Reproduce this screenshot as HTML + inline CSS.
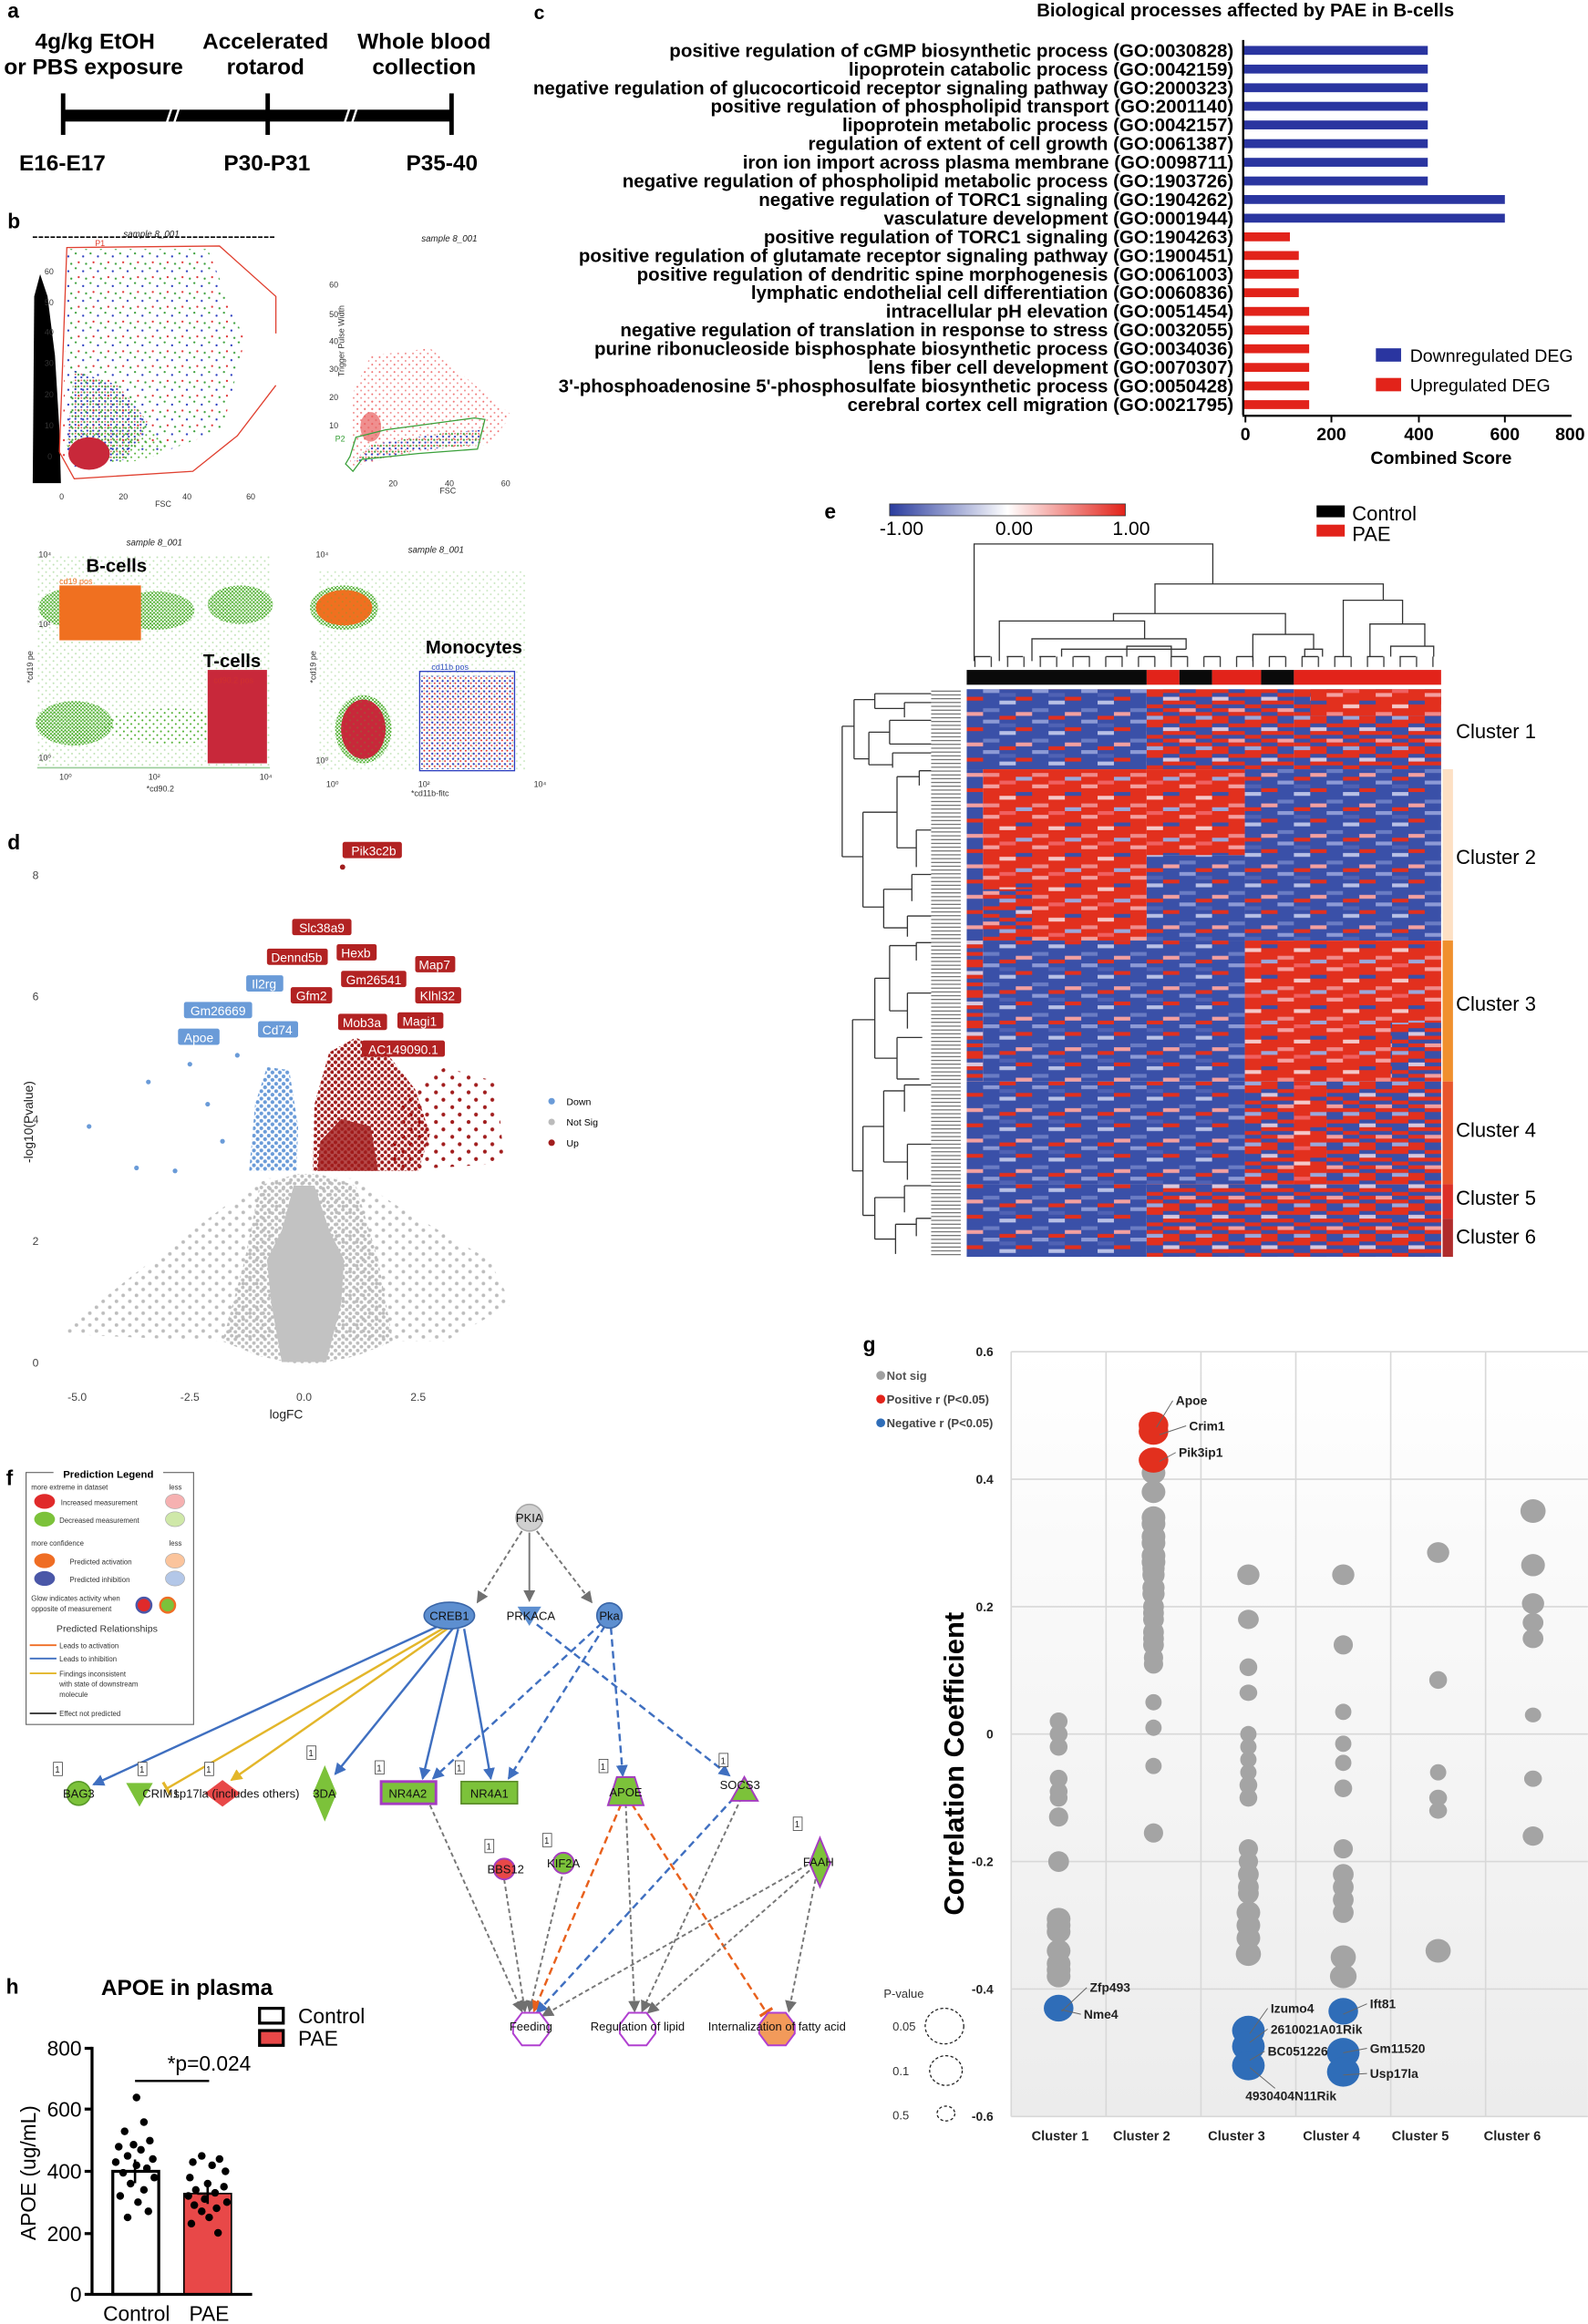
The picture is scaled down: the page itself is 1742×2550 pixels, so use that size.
<!DOCTYPE html>
<html><head><meta charset="utf-8">
<style>
html,body{margin:0;padding:0;background:#fff;}
svg{display:block;font-family:"Liberation Sans",Arial,sans-serif;}
.b{font-weight:bold;}
</style></head>
<body>
<svg xmlns="http://www.w3.org/2000/svg" width="1742" height="2550" viewBox="0 0 1071 1568">
<defs>
<marker id="ag" markerWidth="8" markerHeight="8" refX="7" refY="4" orient="auto" markerUnits="userSpaceOnUse"><path d="M0,0 L8,4 L0,8 z" fill="#707070"/></marker>
<marker id="ab" markerWidth="8" markerHeight="8" refX="7" refY="4" orient="auto" markerUnits="userSpaceOnUse"><path d="M0,0 L8,4 L0,8 z" fill="#3f6fc0"/></marker>
<marker id="ay" markerWidth="8" markerHeight="8" refX="7" refY="4" orient="auto" markerUnits="userSpaceOnUse"><path d="M0,0 L8,4 L0,8 z" fill="#e3b62a"/></marker>
<marker id="ao" markerWidth="8" markerHeight="8" refX="7" refY="4" orient="auto" markerUnits="userSpaceOnUse"><path d="M0,0 L8,4 L0,8 z" fill="#e8601c"/></marker>
<marker id="io" markerWidth="3" markerHeight="10" refX="1.5" refY="5" orient="auto" markerUnits="userSpaceOnUse"><rect x="0" y="0" width="2" height="10" fill="#e8601c"/></marker>
<marker id="iy" markerWidth="3" markerHeight="10" refX="1.5" refY="5" orient="auto" markerUnits="userSpaceOnUse"><rect x="0" y="0" width="2" height="10" fill="#e3b62a"/></marker>
<linearGradient id="cb" x1="0" x2="1" y1="0" y2="0"><stop offset="0" stop-color="#2a3c9e"/><stop offset="0.5" stop-color="#ffffff"/><stop offset="1" stop-color="#e2231a"/></linearGradient>
<linearGradient id="gbg" x1="0" x2="0" y1="0" y2="1"><stop offset="0" stop-color="#ffffff"/><stop offset="1" stop-color="#ececec"/></linearGradient>

<pattern id="pR" x="652" y="465" width="33.103" height="20.56" patternUnits="userSpaceOnUse">
<rect width="33.103" height="20.56" fill="#e2301e"/>
<rect x="11.03" y="2.57" width="11.04" height="2.57" fill="#f4a0a0"/>
<rect x="0" y="7.71" width="11.04" height="2.57" fill="#3a50a8"/>
<rect x="22.07" y="10.28" width="11.04" height="2.57" fill="#f5c8c8"/>
<rect x="11.03" y="15.42" width="11.04" height="2.57" fill="#f08a8a"/>
<rect x="0" y="17.99" width="11.04" height="2.57" fill="#9aa8dc"/>
<rect x="22.07" y="0" width="11.04" height="2.57" fill="#f06060"/>
</pattern>
<pattern id="pB" x="652" y="465" width="33.103" height="20.56" patternUnits="userSpaceOnUse">
<rect width="33.103" height="20.56" fill="#3a50a8"/>
<rect x="11.03" y="0" width="11.04" height="2.57" fill="#8d9ad6"/>
<rect x="0" y="5.14" width="11.04" height="2.57" fill="#e2301e"/>
<rect x="22.07" y="7.71" width="11.04" height="2.57" fill="#b8c0e6"/>
<rect x="11.03" y="12.85" width="11.04" height="2.57" fill="#6a7cc4"/>
<rect x="0" y="15.42" width="11.04" height="2.57" fill="#f4a0a0"/>
<rect x="22.07" y="17.99" width="11.04" height="2.57" fill="#e2301e"/>
<rect x="22.07" y="2.57" width="11.04" height="2.57" fill="#5062b4"/>
</pattern>
<pattern id="pM" x="652" y="465" width="33.103" height="20.56" patternUnits="userSpaceOnUse">
<rect width="33.103" height="20.56" fill="#3a50a8"/>
<rect x="0" y="0" width="11.04" height="2.57" fill="#e2301e"/>
<rect x="22.07" y="0" width="11.04" height="5.14" fill="#e2301e"/>
<rect x="11.03" y="2.57" width="11.04" height="2.57" fill="#e2301e"/>
<rect x="0" y="5.14" width="11.04" height="2.57" fill="#d8c8de"/>
<rect x="0" y="7.71" width="22.07" height="2.57" fill="#e2301e"/>
<rect x="22.07" y="10.28" width="11.04" height="2.57" fill="#e2301e"/>
<rect x="0" y="12.85" width="11.04" height="2.57" fill="#e2301e"/>
<rect x="11.03" y="12.85" width="11.04" height="2.57" fill="#f4a0a0"/>
<rect x="11.03" y="15.42" width="22.07" height="2.57" fill="#e2301e"/>
<rect x="0" y="17.99" width="11.04" height="2.57" fill="#e2301e"/>
<rect x="22.07" y="17.99" width="11.04" height="2.57" fill="#9aa8dc"/>
</pattern>
<pattern id="pleaf" x="0" y="465" width="20" height="2.569" patternUnits="userSpaceOnUse"><line x1="0" y1="1.28" x2="20" y2="1.28" stroke="#444" stroke-width="0.55"/></pattern>
<pattern id="ptick" x="652" y="0" width="11.034" height="10" patternUnits="userSpaceOnUse"><line x1="5.52" y1="0" x2="5.52" y2="10" stroke="#333" stroke-width="0.8"/></pattern>

<pattern id="dgrey" width="5" height="5" patternUnits="userSpaceOnUse"><circle cx="1.2" cy="1.2" r="1.2" fill="#bdbdbd"/><circle cx="3.7" cy="3.6" r="1.2" fill="#bdbdbd"/></pattern>
<pattern id="dgrey2" width="9" height="8" patternUnits="userSpaceOnUse"><circle cx="2" cy="2" r="1.2" fill="#bdbdbd"/><circle cx="6.5" cy="6" r="1.2" fill="#bdbdbd"/></pattern>
<pattern id="dred" width="4.5" height="4.5" patternUnits="userSpaceOnUse"><circle cx="1.2" cy="1.2" r="1.3" fill="#a11d1d"/><circle cx="3.5" cy="3.4" r="1.3" fill="#a11d1d"/></pattern>
<pattern id="dred2" width="11" height="10" patternUnits="userSpaceOnUse"><circle cx="2" cy="2" r="1.3" fill="#a11d1d"/><circle cx="8" cy="7" r="1.3" fill="#a11d1d"/></pattern>
<pattern id="dblue" width="5" height="5" patternUnits="userSpaceOnUse"><circle cx="1.2" cy="1.2" r="1.3" fill="#6a9bd8"/><circle cx="3.7" cy="3.6" r="1.3" fill="#6a9bd8"/></pattern>
<pattern id="dmix" width="10" height="10" patternUnits="userSpaceOnUse"><circle cx="1" cy="1" r="0.7" fill="#3aa03a"/><circle cx="6" cy="3" r="0.7" fill="#2a3cc0"/><circle cx="3" cy="7" r="0.7" fill="#e03030"/><circle cx="8" cy="8" r="0.7" fill="#3aa03a"/></pattern>
<pattern id="dmix2" width="4" height="4" patternUnits="userSpaceOnUse"><circle cx="0.8" cy="0.8" r="0.7" fill="#3aa03a"/><circle cx="2.8" cy="2.6" r="0.7" fill="#2a3cc0"/><circle cx="2.8" cy="0.6" r="0.5" fill="#e03030"/></pattern>
<pattern id="dgreen" width="2.4" height="2.4" patternUnits="userSpaceOnUse"><circle cx="0.7" cy="0.7" r="0.7" fill="#4fb030"/><circle cx="1.9" cy="1.8" r="0.7" fill="#4fb030"/></pattern>
<pattern id="dgreen2" width="5" height="5" patternUnits="userSpaceOnUse"><circle cx="1" cy="1" r="0.6" fill="#4fb030"/><circle cx="3.5" cy="3.5" r="0.6" fill="#4fb030"/></pattern>
<pattern id="dpink" width="5" height="5" patternUnits="userSpaceOnUse"><circle cx="1" cy="1" r="0.6" fill="#f07070"/><circle cx="3.5" cy="3.5" r="0.6" fill="#f09090"/></pattern>
<pattern id="dbluef" width="3.5" height="3.5" patternUnits="userSpaceOnUse"><circle cx="1" cy="1" r="0.7" fill="#2a3cc0"/><circle cx="2.6" cy="2.5" r="0.6" fill="#e03030"/></pattern>
</defs>

<!-- Panel a -->
<g class="b" font-size="15" text-anchor="middle">
<text x="5" y="12" text-anchor="start" font-size="14">a</text>
<text x="64" y="33">4g/kg EtOH</text>
<text x="63" y="50">or PBS exposure</text>
<text x="179" y="33">Accelerated</text>
<text x="179" y="50">rotarod</text>
<text x="286" y="33">Whole blood</text>
<text x="286" y="50">collection</text>
<text x="42" y="115">E16-E17</text>
<text x="180" y="115">P30-P31</text>
<text x="298" y="115">P35-40</text>
</g>
<rect x="42" y="74" width="263" height="8" fill="#000"/>
<rect x="41" y="63" width="3" height="28" fill="#000"/><rect x="179" y="63" width="3" height="28" fill="#000"/><rect x="303" y="63" width="3" height="28" fill="#000"/>
<g stroke="#fff" stroke-width="1.5"><line x1="112" y1="84" x2="116" y2="72"/><line x1="117" y1="84" x2="121" y2="72"/><line x1="232" y1="84" x2="236" y2="72"/><line x1="237" y1="84" x2="241" y2="72"/></g>

<!-- Panel b -->
<text x="5" y="154" class="b" font-size="14">b</text>
<line x1="22" y1="160" x2="185" y2="160" stroke="#000" stroke-width="1" stroke-dasharray="3,1"/>
<polygon points="42,310 45,168 140,168 165,230 150,290 110,305" fill="url(#dmix)"/>
<polygon points="45,300 50,250 80,260 100,285 85,310 50,315" fill="url(#dmix2)"/>
<ellipse cx="78" cy="300" rx="34" ry="12" fill="url(#dgreen2)"/>
<polygon points="22,326 41,326 40,290 37,240 32,200 27,185 23,200" fill="#000"/>
<ellipse cx="60" cy="306" rx="14" ry="11" fill="#c8283a"/>
<polyline points="40,305 45,167 148,166 186,200 186,225" fill="none" stroke="#e04030" stroke-width="0.8"/>
<polyline points="40,305 50,323 130,318 160,294 186,260" fill="none" stroke="#e04030" stroke-width="0.8"/>
<polygon points="236,315 238,265 250,240 290,235 345,280 330,300 280,305" fill="url(#dpink)"/>
<ellipse cx="250" cy="285" rx="9" ry="15" fill="url(#dpink)"/>
<ellipse cx="250" cy="288" rx="7" ry="10" fill="#e86060" opacity="0.7"/>
<polygon points="238,312 250,300 300,292 325,290 322,300 280,304 245,312" fill="url(#dmix2)"/>
<polygon points="233,313 236,308 240,295 260,290 320,282 327,283 322,303 282,306 244,310 238,318" fill="none" stroke="#3aa03a" stroke-width="0.8"/>
<ellipse cx="48" cy="410" rx="22" ry="13" fill="url(#dgreen)"/>
<ellipse cx="105" cy="412" rx="26" ry="13" fill="url(#dgreen)"/>
<ellipse cx="162" cy="408" rx="22" ry="13" fill="url(#dgreen)"/>
<ellipse cx="50" cy="488" rx="26" ry="15" fill="url(#dgreen)"/>
<ellipse cx="115" cy="490" rx="45" ry="12" fill="url(#dgreen2)"/>
<rect x="25" y="375" width="157" height="143" fill="url(#dgreen2)" opacity="0.35"/>
<rect x="40" y="395" width="55" height="37" fill="#f07020"/>
<rect x="140" y="452" width="40" height="63" fill="#c8283a"/>
<line x1="25" y1="518" x2="182" y2="518" stroke="#9c9" stroke-width="1"/>
<ellipse cx="232" cy="410" rx="23" ry="15" fill="url(#dgreen)"/>
<ellipse cx="232" cy="410" rx="19" ry="12" fill="#f07020"/>
<ellipse cx="245" cy="492" rx="19" ry="23" fill="url(#dgreen)"/>
<ellipse cx="245" cy="492" rx="15" ry="20" fill="#c8283a"/>
<rect x="215" y="385" width="140" height="135" fill="url(#dgreen2)" opacity="0.3"/>
<rect x="284" y="456" width="62" height="63" fill="url(#dbluef)"/>
<rect x="283" y="453" width="64" height="67" fill="none" stroke="#2a3cc0" stroke-width="0.8"/>
<g font-size="5.5" fill="#222" font-style="italic">
<text x="102" y="160" text-anchor="middle" font-size="6">sample 8_001</text>
<text x="303" y="163" text-anchor="middle" font-size="6">sample 8_001</text>
<text x="104" y="368" text-anchor="middle" font-size="6">sample 8_001</text>
<text x="294" y="373" text-anchor="middle" font-size="6">sample 8_001</text>
</g>
<g font-size="5.5" fill="#333">
<text x="110" y="342" text-anchor="middle">FSC</text>
<text x="302" y="333" text-anchor="middle">FSC</text>
<text x="108" y="534" text-anchor="middle">*cd90.2</text>
<text x="290" y="537" text-anchor="middle">*cd11b-fitc</text>
<text x="232" y="230" transform="rotate(-90 232 230)" text-anchor="middle">Trigger Pulse Width</text>
<text x="22" y="450" transform="rotate(-90 22 450)" text-anchor="middle">*cd19 pe</text>
<text x="213" y="450" transform="rotate(-90 213 450)" text-anchor="middle">*cd19 pe</text>
<text x="30" y="185">60</text><text x="30" y="206">50</text><text x="30" y="226">40</text><text x="30" y="247">30</text><text x="30" y="268">20</text><text x="30" y="289">10</text><text x="32" y="310">0</text>
<text x="40" y="337">0</text><text x="80" y="337">20</text><text x="123" y="337">40</text><text x="166" y="337">60</text>
<text x="222" y="194">60</text><text x="222" y="214">50</text><text x="222" y="232">40</text><text x="222" y="251">30</text><text x="222" y="270">20</text><text x="222" y="289">10</text>
<text x="262" y="328">20</text><text x="300" y="328">40</text><text x="338" y="328">60</text>
<text x="26" y="376">10⁴</text><text x="26" y="423">10²</text><text x="26" y="513">10⁰</text>
<text x="40" y="526">10⁰</text><text x="100" y="526">10²</text><text x="175" y="526">10⁴</text>
<text x="213" y="376">10⁴</text><text x="213" y="515">10⁰</text>
<text x="220" y="531">10⁰</text><text x="282" y="531">10²</text><text x="360" y="531">10⁴</text>
</g>
<g class="b" font-size="12.5">
<text x="58" y="386">B-cells</text>
<text x="137" y="450">T-cells</text>
<text x="287" y="441">Monocytes</text>
</g>
<g font-size="5.5"><text x="40" y="394" fill="#f07020">cd19 pos</text><text x="144" y="461" fill="#d03030">cd90.2 pos</text><text x="291" y="452" fill="#3050c0">cd11b pos</text><text x="64" y="166" fill="#e04030">P1</text><text x="226" y="298" fill="#3aa03a">P2</text></g>

<!-- Panel c -->
<text x="360" y="13" class="b" font-size="13">c</text>
<text x="840" y="11" class="b" font-size="12.5" text-anchor="middle">Biological processes affected by PAE in B-cells</text>
<g class="b" font-size="12.6" text-anchor="end">
<text x="832" y="38.3">positive regulation of cGMP biosynthetic process (GO:0030828)</text>
<text x="832" y="50.9">lipoprotein catabolic process (GO:0042159)</text>
<text x="832" y="63.5">negative regulation of glucocorticoid receptor signaling pathway (GO:2000323)</text>
<text x="832" y="76">positive regulation of phospholipid transport (GO:2001140)</text>
<text x="832" y="88.6">lipoprotein metabolic process (GO:0042157)</text>
<text x="832" y="101.2">regulation of extent of cell growth (GO:0061387)</text>
<text x="832" y="113.8">iron ion import across plasma membrane (GO:0098711)</text>
<text x="832" y="126.4">negative regulation of phospholipid metabolic process (GO:1903726)</text>
<text x="832" y="138.9">negative regulation of TORC1 signaling (GO:1904262)</text>
<text x="832" y="151.5">vasculature development (GO:0001944)</text>
<text x="832" y="164.1">positive regulation of TORC1 signaling (GO:1904263)</text>
<text x="832" y="176.7">positive regulation of glutamate receptor signaling pathway (GO:1900451)</text>
<text x="832" y="189.3">positive regulation of dendritic spine morphogenesis (GO:0061003)</text>
<text x="832" y="201.8">lymphatic endothelial cell differentiation (GO:0060836)</text>
<text x="832" y="214.4">intracellular pH elevation (GO:0051454)</text>
<text x="832" y="227">negative regulation of translation in response to stress (GO:0032055)</text>
<text x="832" y="239.6">purine ribonucleoside bisphosphate biosynthetic process (GO:0034036)</text>
<text x="832" y="252.2">lens fiber cell development (GO:0070307)</text>
<text x="832" y="264.7">3'-phosphoadenosine 5'-phosphosulfate biosynthetic process (GO:0050428)</text>
<text x="832" y="277.3">cerebral cortex cell migration (GO:0021795)</text>
</g>
<g fill="#2a35a0">
<rect x="839" y="31" width="124" height="6"/><rect x="839" y="43.6" width="124" height="6"/><rect x="839" y="56.2" width="124" height="6"/><rect x="839" y="68.7" width="124" height="6"/><rect x="839" y="81.3" width="124" height="6"/><rect x="839" y="93.9" width="124" height="6"/><rect x="839" y="106.5" width="124" height="6"/><rect x="839" y="119.1" width="124" height="6"/><rect x="839" y="131.6" width="176" height="6"/><rect x="839" y="144.2" width="176" height="6"/>
</g>
<g fill="#e2231a">
<rect x="839" y="156.8" width="31" height="6"/><rect x="839" y="169.4" width="37" height="6"/><rect x="839" y="182" width="37" height="6"/><rect x="839" y="194.5" width="37" height="6"/><rect x="839" y="207.1" width="44" height="6"/><rect x="839" y="219.7" width="44" height="6"/><rect x="839" y="232.3" width="44" height="6"/><rect x="839" y="244.9" width="44" height="6"/><rect x="839" y="257.4" width="44" height="6"/><rect x="839" y="270" width="44" height="6"/>
</g>
<line x1="838.5" y1="27" x2="838.5" y2="280" stroke="#000" stroke-width="1.5"/>
<line x1="838" y1="280.5" x2="1060" y2="280.5" stroke="#000" stroke-width="1.5"/>
<g stroke="#000" stroke-width="1.2"><line x1="840" y1="280" x2="840" y2="285"/><line x1="898" y1="280" x2="898" y2="285"/><line x1="957" y1="280" x2="957" y2="285"/><line x1="1015" y1="280" x2="1015" y2="285"/></g>
<g class="b" font-size="12" text-anchor="middle"><text x="840" y="297">0</text><text x="898" y="297">200</text><text x="957" y="297">400</text><text x="1015" y="297">600</text><text x="1059" y="297">800</text>
<text x="972" y="313">Combined Score</text></g>
<rect x="928" y="235" width="17" height="9" fill="#2a35a0"/><text x="951" y="244" font-size="12">Downregulated DEG</text>
<rect x="928" y="255" width="17" height="9" fill="#e2231a"/><text x="951" y="264" font-size="12">Upregulated DEG</text>

<!-- Panel d -->
<text x="5" y="573" class="b" font-size="14">d</text>
<polygon points="40,900 90,860 150,815 180,795 240,795 270,815 330,850 345,880 300,905 150,905" fill="url(#dgrey2)"/>
<polygon points="150,905 165,850 175,800 200,792 215,792 240,800 255,850 265,905 240,915 215,920 198,920 175,915" fill="url(#dgrey)"/>
<polygon points="190,919 183,880 180,850 190,830 198,800 212,800 222,830 232,850 230,880 220,919" fill="#c2c2c2"/>
<polygon points="211,790 212,745 222,710 240,700 262,712 280,735 290,765 282,790" fill="url(#dred)"/>
<polygon points="262,790 270,740 300,720 335,730 340,785" fill="url(#dred2)"/>
<polygon points="214,790 216,770 230,755 250,760 255,790" fill="#a11d1d" opacity="0.8"/>
<polygon points="168,790 172,745 180,720 195,722 201,760 200,790" fill="url(#dblue)"/>
<g fill="#6a9bd8"><circle cx="60" cy="760" r="1.6"/><circle cx="100" cy="730" r="1.6"/><circle cx="128" cy="718" r="1.6"/><circle cx="118" cy="790" r="1.6"/><circle cx="150" cy="770" r="1.6"/><circle cx="92" cy="788" r="1.6"/><circle cx="140" cy="745" r="1.6"/><circle cx="160" cy="712" r="1.6"/></g>
<circle cx="231" cy="585" r="1.8" fill="#a11d1d"/>
<g font-size="7.5" fill="#444">
<text x="26" y="593" text-anchor="end">8</text><text x="26" y="675" text-anchor="end">6</text><text x="26" y="758" text-anchor="end">4</text><text x="26" y="840" text-anchor="end">2</text><text x="26" y="922" text-anchor="end">0</text>
<text x="52" y="945" text-anchor="middle">-5.0</text><text x="128" y="945" text-anchor="middle">-2.5</text><text x="205" y="945" text-anchor="middle">0.0</text><text x="282" y="945" text-anchor="middle">2.5</text>
</g>
<text x="193" y="957" font-size="8.5" text-anchor="middle" fill="#222">logFC</text>
<text x="22" y="757" font-size="8.5" text-anchor="middle" fill="#222" transform="rotate(-90 22 757)">-log10(Pvalue)</text>
<circle cx="372" cy="743" r="2.2" fill="#6a9bd8"/><text x="382" y="745.5" font-size="6.5">Down</text>
<circle cx="372" cy="757" r="2.2" fill="#bbb"/><text x="382" y="759.5" font-size="6.5">Not Sig</text>
<circle cx="372" cy="771" r="2.2" fill="#a11d1d"/><text x="382" y="773.5" font-size="6.5">Up</text>
<g font-size="8.5" fill="#fff" text-anchor="middle">
<rect x="231" y="568" width="40" height="11" rx="1.5" fill="#b22222"/><text x="252" y="577">Pik3c2b</text>
<rect x="197" y="620" width="40" height="11" rx="1.5" fill="#b22222"/><text x="217" y="629">Slc38a9</text>
<rect x="227" y="637" width="27" height="11" rx="1.5" fill="#b22222"/><text x="240" y="646">Hexb</text>
<rect x="180" y="640" width="41" height="11" rx="1.5" fill="#b22222"/><text x="200" y="649">Dennd5b</text>
<rect x="280" y="645" width="27" height="11" rx="1.5" fill="#b22222"/><text x="293" y="654">Map7</text>
<rect x="230" y="655" width="44" height="11" rx="1.5" fill="#b22222"/><text x="252" y="664">Gm26541</text>
<rect x="166" y="658" width="25" height="11" rx="1.5" fill="#6a9bd8"/><text x="178" y="667">Il2rg</text>
<rect x="196" y="666" width="28" height="11" rx="1.5" fill="#b22222"/><text x="210" y="675">Gfm2</text>
<rect x="280" y="666" width="31" height="11" rx="1.5" fill="#b22222"/><text x="295" y="675">Klhl32</text>
<rect x="124" y="676" width="46" height="11" rx="1.5" fill="#6a9bd8"/><text x="147" y="685">Gm26669</text>
<rect x="228" y="684" width="33" height="11" rx="1.5" fill="#b22222"/><text x="244" y="693">Mob3a</text>
<rect x="268" y="683" width="31" height="11" rx="1.5" fill="#b22222"/><text x="283" y="692">Magi1</text>
<rect x="174" y="689" width="27" height="11" rx="1.5" fill="#6a9bd8"/><text x="187" y="698">Cd74</text>
<rect x="120" y="694" width="28" height="11" rx="1.5" fill="#6a9bd8"/><text x="134" y="703">Apoe</text>
<rect x="244" y="702" width="56" height="11" rx="1.5" fill="#b22222"/><text x="272" y="711">AC149090.1</text>
</g>

<!-- Panel e -->
<text x="556" y="350" class="b" font-size="14">e</text>
<rect x="600" y="340" width="159" height="8" fill="url(#cb)" stroke="#333" stroke-width="0.5"/>
<g font-size="13" text-anchor="middle"><text x="608" y="361">-1.00</text><text x="684" y="361">0.00</text><text x="763" y="361">1.00</text></g>
<rect x="888" y="341" width="19" height="8" fill="#000"/><text x="912" y="351" font-size="13.5">Control</text>
<rect x="888" y="354" width="19" height="8" fill="#e2231a"/><text x="912" y="365" font-size="13.5">PAE</text>
<rect x="652" y="465" width="121.4" height="54" fill="url(#pB)"/>
<rect x="773.4" y="465" width="99.3" height="54" fill="url(#pM)"/>
<rect x="872.7" y="465" width="99.3" height="54" fill="url(#pM)"/>
<rect x="884" y="465" width="88" height="18" fill="url(#pR)"/>
<rect x="652" y="519" width="11" height="115.6" fill="url(#pB)"/>
<rect x="663" y="519" width="110.4" height="115.6" fill="url(#pR)"/>
<rect x="663" y="600" width="33" height="34.6" fill="url(#pM)"/>
<rect x="773.4" y="519" width="66.2" height="58" fill="url(#pR)"/>
<rect x="773.4" y="577" width="66.2" height="57.6" fill="url(#pB)"/>
<rect x="839.6" y="519" width="132.4" height="115.6" fill="url(#pB)"/>
<rect x="652" y="634.6" width="11" height="95.1" fill="url(#pM)"/>
<rect x="663" y="634.6" width="176.6" height="95.1" fill="url(#pB)"/>
<rect x="839.6" y="634.6" width="132.4" height="95.1" fill="url(#pR)"/>
<rect x="938" y="690" width="34" height="39.7" fill="url(#pM)"/>
<rect x="652" y="729.7" width="187.6" height="69.3" fill="url(#pB)"/>
<rect x="839.6" y="729.7" width="132.4" height="69.3" fill="url(#pM)"/>
<rect x="872.7" y="729.7" width="22" height="69.3" fill="url(#pR)"/>
<rect x="652" y="799" width="121.4" height="49" fill="url(#pB)"/>
<rect x="773.4" y="799" width="198.6" height="49" fill="url(#pM)"/>
<rect x="652" y="452" width="121.4" height="10" fill="#0a0a0a"/>
<rect x="773.4" y="452" width="22.1" height="10" fill="#e2231a"/>
<rect x="795.5" y="452" width="22" height="10" fill="#0a0a0a"/>
<rect x="817.5" y="452" width="33.1" height="10" fill="#e2231a"/>
<rect x="850.6" y="452" width="22.1" height="10" fill="#0a0a0a"/>
<rect x="872.7" y="452" width="99.3" height="10" fill="#e2231a"/>
<rect x="973" y="519" width="7" height="115.6" fill="#fde0c4"/>
<rect x="973" y="634.6" width="7" height="95.1" fill="#f0902e"/>
<rect x="973" y="729.7" width="7" height="69.3" fill="#e8562c"/>
<rect x="973" y="799" width="7" height="23.2" fill="#dc3028"/>
<rect x="973" y="822.2" width="7" height="25.8" fill="#b02c2c"/>
<rect x="652" y="443" width="320" height="7" fill="url(#ptick)"/>
<g stroke="#333" stroke-width="0.8" fill="none">
<path d="M657,446 V367 H818 V394 M779,414 V394 H933 V405 M751,419 V414 H867 V428 M674,446 V419 H772 V431 M696,446 V431 H800 V438 M716,443 V438 H800 M845,446 V428 H886 V438 M880,443 V438 H892 V443 M906,443 V405 H946 V421 M924,443 V421 H961 V436 M938,443 V436 H967 V443 M760,443 V436 H790 V443"/>
<path d="M657,443 H668 M679,443 H690 M701,443 H712 M724,443 H735 M746,443 H757 M768,443 H779 M790,443 H801 M812,443 H823 M834,443 H845 M856,443 H867 M878,443 H889 M900,443 H911 M922,443 H933 M944,443 H955"/>
</g>
<rect x="628" y="465" width="20" height="383" fill="url(#pleaf)"/>
<g stroke="#333" stroke-width="0.8" fill="none">
<path d="M568,490 V578 M568,490 H576 M568,578 H582"/>
<path d="M576,472 V512 M576,472 H590 M576,512 H586 M590,468 V478 M590,468 H628 M590,478 H610 M610,474 V484 M610,474 H628 M586,494 V516 M586,494 H600 M586,516 H602 M600,486 V502 M600,486 H628 M600,502 H628 M602,508 V518 M602,508 H628"/>
<path d="M582,548 V612 M582,548 H605 M582,612 H596 M605,524 V572 M605,524 H620 M605,572 H618 M620,520 V530 M620,520 H628 M618,560 V585 M618,560 H628 M596,600 V626 M596,600 H615 M596,626 H612 M615,590 V608 M615,590 H628 M612,618 V632 M612,618 H628"/>
<path d="M575,688 V790 M575,688 H590 M575,790 H582 M590,660 V714 M590,660 H600 M590,714 H605 M600,638 V682 M600,638 H618 M600,682 H612 M618,636 V648 M618,636 H628 M612,670 V694 M612,670 H628 M605,700 V728 M605,700 H622 M605,728 H620"/>
<path d="M582,760 V820 M582,760 H596 M582,820 H590 M596,736 V784 M596,736 H610 M596,784 H612 M610,732 V750 M610,732 H628 M612,772 V796 M612,772 H628 M590,808 V836 M590,808 H610 M590,836 H604 M610,800 V818 M610,800 H628 M604,826 V846 M604,826 H618 M618,822 V834 M618,822 H628"/>
</g>
<g font-size="13.5"><text x="982" y="498">Cluster 1</text><text x="982" y="583">Cluster 2</text><text x="982" y="682">Cluster 3</text><text x="982" y="767">Cluster 4</text><text x="982" y="813">Cluster 5</text><text x="982" y="839">Cluster 6</text></g>

<!-- Panel f -->
<text x="4" y="1002" class="b" font-size="14">f</text>
<g>
<rect x="17.5" y="993.5" width="113" height="170" fill="#fff" stroke="#666" stroke-width="0.7"/>
<rect x="36" y="989" width="74" height="9" fill="#fff"/>
<text x="73" y="997" font-size="7" class="b" text-anchor="middle">Prediction Legend</text>
<g font-size="4.8" fill="#333">
<text x="21" y="1005">more extreme in dataset</text><text x="114" y="1005">less</text>
<ellipse cx="30" cy="1013" rx="7" ry="5" fill="#e02a2a"/><text x="41" y="1015.5">Increased measurement</text><ellipse cx="118" cy="1013" rx="6.5" ry="5" fill="#f6b1b1" stroke="#aaa" stroke-width="0.4"/>
<ellipse cx="30" cy="1025" rx="7" ry="5" fill="#7cc23a"/><text x="40" y="1027.5">Decreased measurement</text><ellipse cx="118" cy="1025" rx="6.5" ry="5" fill="#cfe8a8" stroke="#aaa" stroke-width="0.4"/>
<text x="21" y="1043">more confidence</text><text x="114" y="1043">less</text>
<ellipse cx="30" cy="1053" rx="7" ry="5" fill="#ef6d24"/><text x="47" y="1055.5">Predicted activation</text><ellipse cx="118" cy="1053" rx="6.5" ry="5" fill="#fbc49c" stroke="#aaa" stroke-width="0.4"/>
<ellipse cx="30" cy="1065" rx="7" ry="5" fill="#4a57a8"/><text x="47" y="1067.5">Predicted inhibition</text><ellipse cx="118" cy="1065" rx="6.5" ry="5" fill="#b3c7e8" stroke="#aaa" stroke-width="0.4"/>
<text x="21" y="1080">Glow indicates activity when</text><text x="21" y="1087">opposite of measurement</text>
<circle cx="97" cy="1083" r="5" fill="#e02a2a" stroke="#4a57a8" stroke-width="1.5"/><circle cx="113" cy="1083" r="5" fill="#7cc23a" stroke="#ef6d24" stroke-width="1.5"/>
<text x="38" y="1101" font-size="6.5">Predicted Relationships</text>
<line x1="20" y1="1110" x2="38" y2="1110" stroke="#ef6d24" stroke-width="1.2"/><text x="40" y="1112">Leads to activation</text>
<line x1="20" y1="1119" x2="38" y2="1119" stroke="#3f6fc0" stroke-width="1.2"/><text x="40" y="1121">Leads to inhibition</text>
<line x1="20" y1="1129" x2="38" y2="1129" stroke="#e3b62a" stroke-width="1.2"/><text x="40" y="1131">Findings inconsistent</text><text x="40" y="1138">with state of downstream</text><text x="40" y="1145">molecule</text>
<line x1="20" y1="1156" x2="38" y2="1156" stroke="#444" stroke-width="1.2"/><text x="40" y="1158">Effect not predicted</text>
</g></g>
<g fill="none" stroke-width="1.2">
<line x1="352" y1="1033" x2="322" y2="1081" stroke="#777" stroke-dasharray="3,2" marker-end="url(#ag)"/>
<line x1="357" y1="1034" x2="357" y2="1080" stroke="#777" marker-end="url(#ag)"/>
<line x1="362" y1="1033" x2="399" y2="1081" stroke="#777" stroke-dasharray="3,2" marker-end="url(#ag)"/>
<line x1="296" y1="1097" x2="63" y2="1204" stroke="#3f6fc0" stroke-width="1.5" marker-end="url(#ab)"/>
<line x1="300" y1="1098" x2="112" y2="1207" stroke="#e3b62a" stroke-width="1.5" marker-end="url(#iy)"/>
<line x1="303" y1="1098" x2="156" y2="1201" stroke="#e3b62a" stroke-width="1.5" marker-end="url(#ay)"/>
<line x1="306" y1="1098" x2="226" y2="1197" stroke="#3f6fc0" stroke-width="1.5" marker-end="url(#ab)"/>
<line x1="309" y1="1099" x2="285" y2="1200" stroke="#3f6fc0" stroke-width="1.5" marker-end="url(#ab)"/>
<line x1="313" y1="1099" x2="331" y2="1200" stroke="#3f6fc0" stroke-width="1.5" marker-end="url(#ab)"/>
<line x1="406" y1="1095" x2="292" y2="1200" stroke="#3f6fc0" stroke-width="1.5" stroke-dasharray="5,3" marker-end="url(#ab)"/>
<line x1="408" y1="1097" x2="343" y2="1200" stroke="#3f6fc0" stroke-width="1.5" stroke-dasharray="5,3" marker-end="url(#ab)"/>
<line x1="412" y1="1098" x2="420" y2="1198" stroke="#3f6fc0" stroke-width="1.5" stroke-dasharray="5,3" marker-end="url(#ab)"/>
<line x1="362" y1="1096" x2="492" y2="1198" stroke="#3f6fc0" stroke-width="1.5" stroke-dasharray="5,3" marker-end="url(#ab)"/>
<line x1="290" y1="1218" x2="352" y2="1357" stroke="#777" stroke-dasharray="3,2" marker-end="url(#ag)"/>
<line x1="340" y1="1268" x2="354" y2="1357" stroke="#777" stroke-dasharray="3,2" marker-end="url(#ag)"/>
<line x1="379" y1="1266" x2="357" y2="1357" stroke="#777" stroke-dasharray="3,2" marker-end="url(#ag)"/>
<line x1="419" y1="1217" x2="360" y2="1357" stroke="#e8601c" stroke-width="1.5" stroke-dasharray="5,3" marker-end="url(#ao)"/>
<line x1="495" y1="1213" x2="362" y2="1358" stroke="#3f6fc0" stroke-width="1.5" stroke-dasharray="5,3" marker-end="url(#ab)"/>
<line x1="422" y1="1217" x2="428" y2="1357" stroke="#777" stroke-dasharray="3,2" marker-end="url(#ag)"/>
<line x1="500" y1="1213" x2="433" y2="1357" stroke="#777" stroke-dasharray="3,2" marker-end="url(#ag)"/>
<line x1="426" y1="1217" x2="517" y2="1358" stroke="#e8601c" stroke-width="1.5" stroke-dasharray="5,3" marker-end="url(#io)"/>
<line x1="545" y1="1258" x2="366" y2="1360" stroke="#777" stroke-dasharray="3,2" marker-end="url(#ag)"/>
<line x1="546" y1="1262" x2="437" y2="1358" stroke="#777" stroke-dasharray="3,2" marker-end="url(#ag)"/>
<line x1="550" y1="1268" x2="532" y2="1357" stroke="#777" stroke-dasharray="3,2" marker-end="url(#ag)"/>
</g>
<g font-size="8" fill="#111">
<circle cx="357" cy="1024" r="9" fill="#d0d0d0" stroke="#aaa"/><text x="357" y="1027" text-anchor="middle">PKIA</text>
<ellipse cx="303" cy="1090" rx="17" ry="9" fill="#5d8fd0" stroke="#3a66a8"/><text x="303" y="1093" text-anchor="middle">CREB1</text>
<path d="M349,1084 L365,1084 L357,1097 z" fill="#5d8fd0"/><text x="358" y="1093" text-anchor="middle">PRKACA</text>
<circle cx="411" cy="1090" r="8.5" fill="#5d8fd0" stroke="#3a66a8"/><text x="411" y="1093" text-anchor="middle">Pka</text>
<circle cx="53" cy="1210" r="8" fill="#7cc23a" stroke="#5a9a2a"/><text x="53" y="1213" text-anchor="middle">BAG3</text>
<path d="M85,1203 L103,1203 L94,1219 z" fill="#7cc23a"/>
<path d="M150,1201 L162,1210 L150,1219 L138,1210 z" fill="#e84848"/>
<path d="M219,1191 L227,1210 L219,1229 L211,1210 z" fill="#7cc23a"/>
<text x="96" y="1213">CRIM1</text><text x="117" y="1213">sp17la (includes others)</text><text x="211" y="1213">3DA</text>
<rect x="257" y="1202" width="37" height="15" fill="#7cc23a" stroke="#a43cc0" stroke-width="1.8"/><text x="275" y="1213" text-anchor="middle">NR4A2</text>
<rect x="311" y="1202" width="38" height="15" fill="#7cc23a" stroke="#5a8a2a"/><text x="330" y="1213" text-anchor="middle">NR4A1</text>
<path d="M416,1199 L428,1199 L434,1218 L410,1218 z" fill="#7cc23a" stroke="#a43cc0" stroke-width="1.2"/><text x="422" y="1212" text-anchor="middle">APOE</text>
<path d="M502,1199 L511,1215 L493,1215 z" fill="#7cc23a" stroke="#a43cc0" stroke-width="1.2"/><text x="499" y="1207" text-anchor="middle">SOCS3</text>
<path d="M553,1240 L560,1257 L553,1273 L546,1257 z" fill="#7cc23a" stroke="#a43cc0" stroke-width="1.2"/><text x="552" y="1259" text-anchor="middle">FAAH</text>
<circle cx="340" cy="1261" r="7" fill="#e84848" stroke="#a43cc0" stroke-width="1.2"/><text x="341" y="1264" text-anchor="middle">BBS12</text>
<circle cx="380" cy="1257" r="7" fill="#7cc23a" stroke="#a43cc0" stroke-width="1.2"/><text x="380" y="1260" text-anchor="middle">KIF2A</text>
<polygon points="352,1358 364,1358 370,1366 370,1372 364,1380 352,1380 346,1372 346,1366" fill="#fff" stroke="#b040d0" stroke-width="1.2"/><text x="358" y="1370" text-anchor="middle">Feeding</text>
<polygon points="424,1358 436,1358 442,1366 442,1372 436,1380 424,1380 418,1372 418,1366" fill="#fff" stroke="#b040d0" stroke-width="1.2"/><text x="430" y="1370" text-anchor="middle">Regulation of lipid</text>
<polygon points="518,1358 530,1358 536,1366 536,1372 530,1380 518,1380 512,1372 512,1366" fill="#f29a5a" stroke="#b040d0" stroke-width="1.2"/><text x="524" y="1370" text-anchor="middle">Internalization of fatty acid</text>
</g>
<g font-size="6" fill="#222"><g fill="#fff" stroke="#444" stroke-width="0.5">
<rect x="36" y="1189" width="6" height="9"/><rect x="93" y="1189" width="6" height="9"/><rect x="138" y="1189" width="6" height="9"/><rect x="207" y="1178" width="6" height="9"/><rect x="253" y="1188" width="6" height="9"/><rect x="307" y="1188" width="6" height="9"/><rect x="404" y="1187" width="6" height="9"/><rect x="485" y="1183" width="6" height="9"/><rect x="327" y="1241" width="6" height="9"/><rect x="366" y="1237" width="6" height="9"/><rect x="535" y="1226" width="6" height="9"/></g>
<g><text x="37" y="1196">1</text><text x="94" y="1196">1</text><text x="139" y="1196">1</text><text x="208" y="1185">1</text><text x="254" y="1195">1</text><text x="308" y="1195">1</text><text x="405" y="1194">1</text><text x="486" y="1190">1</text><text x="328" y="1248">1</text><text x="367" y="1244">1</text><text x="536" y="1233">1</text></g></g>

<!-- Panel g -->
<text x="582" y="912" class="b" font-size="14">g</text>
<rect x="682" y="912" width="389" height="516" fill="url(#gbg)"/>
<g stroke="#d8d8d8" stroke-width="1">
<line x1="682" y1="912" x2="1071" y2="912"/><line x1="682" y1="998" x2="1071" y2="998"/><line x1="682" y1="1084" x2="1071" y2="1084"/><line x1="682" y1="1170" x2="1071" y2="1170"/><line x1="682" y1="1256" x2="1071" y2="1256"/><line x1="682" y1="1342" x2="1071" y2="1342"/><line x1="682" y1="1428" x2="1071" y2="1428"/>
<line x1="682" y1="912" x2="682" y2="1428"/><line x1="746" y1="912" x2="746" y2="1428"/><line x1="810" y1="912" x2="810" y2="1428"/><line x1="874" y1="912" x2="874" y2="1428"/><line x1="938" y1="912" x2="938" y2="1428"/><line x1="1002" y1="912" x2="1002" y2="1428"/>
</g>
<g fill="#a4a4a4">
<ellipse cx="714" cy="1161.4" rx="6" ry="6"/><ellipse cx="714" cy="1170" rx="6" ry="6"/><ellipse cx="714" cy="1178.6" rx="6" ry="6"/><ellipse cx="714" cy="1200.1" rx="6" ry="6"/><ellipse cx="714" cy="1208.7" rx="6" ry="6"/><ellipse cx="714" cy="1213" rx="6" ry="6"/><ellipse cx="714" cy="1225.9" rx="6.5" ry="6.5"/><ellipse cx="714" cy="1256" rx="7" ry="7"/><ellipse cx="714" cy="1294.7" rx="8" ry="7.5"/><ellipse cx="714" cy="1299" rx="8" ry="7.5"/><ellipse cx="714" cy="1303.3" rx="8" ry="7.5"/><ellipse cx="714" cy="1316.2" rx="8" ry="7.5"/><ellipse cx="714" cy="1324.8" rx="8" ry="7.5"/><ellipse cx="714" cy="1329.1" rx="8" ry="7.5"/><ellipse cx="714" cy="1333.4" rx="8" ry="7.5"/>
<ellipse cx="778" cy="993.7" rx="8" ry="7.5"/><ellipse cx="778" cy="1006.6" rx="8" ry="7.5"/><ellipse cx="778" cy="1023.8" rx="8" ry="7.5"/><ellipse cx="778" cy="1028.1" rx="8" ry="7.5"/><ellipse cx="778" cy="1036.7" rx="8" ry="7.5"/><ellipse cx="778" cy="1041" rx="8" ry="7.5"/><ellipse cx="778" cy="1049.6" rx="8" ry="7.5"/><ellipse cx="778" cy="1053.9" rx="8" ry="7.5"/><ellipse cx="778" cy="1058.2" rx="7.5" ry="7.5"/><ellipse cx="778" cy="1062.5" rx="7.5" ry="7.5"/><ellipse cx="778" cy="1071.1" rx="7.5" ry="7"/><ellipse cx="778" cy="1075.4" rx="7.5" ry="7"/><ellipse cx="778" cy="1084" rx="7" ry="7"/><ellipse cx="778" cy="1088.3" rx="7" ry="7"/><ellipse cx="778" cy="1092.6" rx="7" ry="7"/><ellipse cx="778" cy="1101.2" rx="7" ry="7"/><ellipse cx="778" cy="1105.5" rx="7" ry="7"/><ellipse cx="778" cy="1109.8" rx="7" ry="7"/><ellipse cx="778" cy="1118.4" rx="6.5" ry="6.5"/><ellipse cx="778" cy="1122.7" rx="6.5" ry="6.5"/><ellipse cx="778" cy="1148.5" rx="5.5" ry="5.5"/><ellipse cx="778" cy="1165.7" rx="5.5" ry="5.5"/><ellipse cx="778" cy="1191.5" rx="5.5" ry="5.5"/><ellipse cx="778" cy="1236.7" rx="6.5" ry="6.5"/>
<ellipse cx="842" cy="1062.5" rx="7.5" ry="7"/><ellipse cx="842" cy="1092.6" rx="7" ry="6.5"/><ellipse cx="842" cy="1124.9" rx="6" ry="6"/><ellipse cx="842" cy="1142.1" rx="6" ry="5.5"/><ellipse cx="842" cy="1170" rx="5.5" ry="5.5"/><ellipse cx="842" cy="1178.6" rx="5.5" ry="5.5"/><ellipse cx="842" cy="1187.2" rx="5.5" ry="5.5"/><ellipse cx="842" cy="1195.8" rx="5.5" ry="5.5"/><ellipse cx="842" cy="1204.4" rx="6" ry="6"/><ellipse cx="842" cy="1213" rx="6" ry="6"/><ellipse cx="842" cy="1247.4" rx="6.5" ry="6.5"/><ellipse cx="842" cy="1256" rx="6.5" ry="6.5"/><ellipse cx="842" cy="1264.6" rx="7" ry="7"/><ellipse cx="842" cy="1273.2" rx="7" ry="7"/><ellipse cx="842" cy="1277.5" rx="7" ry="7"/><ellipse cx="842" cy="1290.4" rx="8" ry="7.5"/><ellipse cx="842" cy="1299" rx="8" ry="7.5"/><ellipse cx="842" cy="1307.6" rx="8" ry="7.5"/><ellipse cx="842" cy="1318.4" rx="8.5" ry="8"/>
<ellipse cx="906" cy="1062.5" rx="7.5" ry="7"/><ellipse cx="906" cy="1109.8" rx="6.5" ry="6.5"/><ellipse cx="906" cy="1155" rx="5.5" ry="5.5"/><ellipse cx="906" cy="1176.5" rx="5.5" ry="5.5"/><ellipse cx="906" cy="1189.4" rx="5.5" ry="5.5"/><ellipse cx="906" cy="1206.6" rx="6" ry="6"/><ellipse cx="906" cy="1247.4" rx="6.5" ry="6.5"/><ellipse cx="906" cy="1264.6" rx="7" ry="7"/><ellipse cx="906" cy="1273.2" rx="7" ry="7"/><ellipse cx="906" cy="1281.8" rx="7" ry="7"/><ellipse cx="906" cy="1290.4" rx="7" ry="7"/><ellipse cx="906" cy="1320.5" rx="8.5" ry="8"/><ellipse cx="906" cy="1333.4" rx="9" ry="8"/>
<ellipse cx="970" cy="1047.5" rx="7.5" ry="7"/><ellipse cx="970" cy="1133.5" rx="6" ry="6"/><ellipse cx="970" cy="1195.8" rx="5.5" ry="5.5"/><ellipse cx="970" cy="1213" rx="6" ry="5.5"/><ellipse cx="970" cy="1221.6" rx="6" ry="5.5"/><ellipse cx="970" cy="1316.2" rx="8.5" ry="8"/>
<ellipse cx="1034" cy="1019.5" rx="8.5" ry="8"/><ellipse cx="1034" cy="1056" rx="8" ry="7.5"/><ellipse cx="1034" cy="1081.9" rx="7.5" ry="7"/><ellipse cx="1034" cy="1094.8" rx="7" ry="6.5"/><ellipse cx="1034" cy="1105.5" rx="7" ry="6.5"/><ellipse cx="1034" cy="1157.1" rx="5.5" ry="5"/><ellipse cx="1034" cy="1200.1" rx="6" ry="5.5"/><ellipse cx="1034" cy="1238.8" rx="7" ry="6.5"/>
</g>
<g fill="#e2301e"><ellipse cx="778" cy="961.5" rx="10" ry="9"/><ellipse cx="778" cy="965.8" rx="10" ry="9"/><ellipse cx="778" cy="985.1" rx="10" ry="8.5"/></g>
<g fill="#2f6db8"><ellipse cx="714" cy="1354.9" rx="10" ry="9"/><ellipse cx="842" cy="1370" rx="11" ry="10"/><ellipse cx="842" cy="1380.7" rx="11" ry="10"/><ellipse cx="842" cy="1393.6" rx="11" ry="10"/><ellipse cx="906" cy="1357" rx="10" ry="9"/><ellipse cx="906" cy="1385" rx="11" ry="10"/><ellipse cx="906" cy="1397.9" rx="11" ry="10"/></g>
<g stroke="#666" stroke-width="0.6">
<line x1="780" y1="963" x2="791" y2="945"/><line x1="782" y1="968" x2="800" y2="962"/><line x1="782" y1="986" x2="793" y2="980"/><line x1="716" y1="1357" x2="733" y2="1341"/><line x1="716" y1="1356" x2="729" y2="1359"/><line x1="843" y1="1372" x2="855" y2="1355"/><line x1="843" y1="1378" x2="855" y2="1369"/><line x1="843" y1="1390" x2="853" y2="1384"/><line x1="843" y1="1395" x2="860" y2="1409"/><line x1="906" y1="1359" x2="922" y2="1352"/><line x1="906" y1="1385" x2="922" y2="1382"/><line x1="906" y1="1400" x2="922" y2="1399"/>
</g>
<g class="b" font-size="8.5" fill="#222">
<text x="793" y="948">Apoe</text><text x="802" y="965">Crim1</text><text x="795" y="983">Pik3ip1</text><text x="735" y="1344">Zfp493</text><text x="731" y="1362">Nme4</text><text x="857" y="1358">Izumo4</text><text x="857" y="1372">2610021A01Rik</text><text x="855" y="1387">BC051226</text><text x="840" y="1417">4930404N11Rik</text><text x="924" y="1355">Ift81</text><text x="924" y="1385">Gm11520</text><text x="924" y="1402">Usp17la</text>
</g>
<g class="b" font-size="8.5" fill="#222">
<text x="670" y="915" text-anchor="end">0.6</text><text x="670" y="1001" text-anchor="end">0.4</text><text x="670" y="1087" text-anchor="end">0.2</text><text x="670" y="1173" text-anchor="end">0</text><text x="670" y="1259" text-anchor="end">-0.2</text><text x="670" y="1345" text-anchor="end">-0.4</text><text x="670" y="1431" text-anchor="end">-0.6</text>
<g text-anchor="middle" font-size="9"><text x="715" y="1444">Cluster 1</text><text x="770" y="1444">Cluster 2</text><text x="834" y="1444">Cluster 3</text><text x="898" y="1444">Cluster 4</text><text x="958" y="1444">Cluster 5</text><text x="1020" y="1444">Cluster 6</text></g>
</g>
<text x="650" y="1190" class="b" font-size="19" text-anchor="middle" transform="rotate(-90 650 1190)">Correlation Coefficient</text>
<g class="b" font-size="8" fill="#555">
<circle cx="594" cy="928" r="3" fill="#a0a0a0"/><text x="598" y="931">Not sig</text>
<circle cx="594" cy="944" r="3" fill="#e2231a"/><text x="598" y="947" fill="#444">Positive r (P&lt;0.05)</text>
<circle cx="594" cy="960" r="3" fill="#2f6db8"/><text x="598" y="963" fill="#444">Negative r (P&lt;0.05)</text>
</g>
<g font-size="8" fill="#333"><text x="596" y="1348">P-value</text><text x="602" y="1370">0.05</text><text x="602" y="1400">0.1</text><text x="602" y="1430">0.5</text></g>
<g fill="none" stroke="#222" stroke-dasharray="2,1.5" stroke-width="0.8"><ellipse cx="637" cy="1367" rx="13" ry="12"/><ellipse cx="638" cy="1397" rx="11" ry="10"/><ellipse cx="638" cy="1426" rx="6" ry="5"/></g>

<!-- Panel h -->
<text x="4" y="1345" class="b" font-size="14">h</text>
<text x="126" y="1346" class="b" font-size="15" text-anchor="middle">APOE in plasma</text>
<rect x="175" y="1355" width="16" height="10" fill="#fff" stroke="#000" stroke-width="2"/><text x="201" y="1365" font-size="14">Control</text>
<rect x="175" y="1370" width="16" height="10" fill="#e84848" stroke="#000" stroke-width="2"/><text x="201" y="1380" font-size="14">PAE</text>
<line x1="62" y1="1381" x2="62" y2="1548" stroke="#000" stroke-width="2"/>
<g stroke="#000" stroke-width="2"><line x1="57" y1="1382" x2="62" y2="1382"/><line x1="57" y1="1423" x2="62" y2="1423"/><line x1="57" y1="1465" x2="62" y2="1465"/><line x1="57" y1="1507" x2="62" y2="1507"/><line x1="57" y1="1548" x2="62" y2="1548"/></g>
<g font-size="14" text-anchor="end"><text x="55" y="1387">800</text><text x="55" y="1428">600</text><text x="55" y="1470">400</text><text x="55" y="1512">200</text><text x="55" y="1553">0</text></g>
<text x="24" y="1466" font-size="14" text-anchor="middle" transform="rotate(-90 24 1466)">APOE (ug/mL)</text>
<rect x="76" y="1465" width="31" height="83" fill="#fff" stroke="#000" stroke-width="2"/>
<rect x="124" y="1480" width="32" height="68" fill="#e84848" stroke="#000" stroke-width="1"/>
<line x1="62" y1="1548" x2="170" y2="1548" stroke="#000" stroke-width="2"/>
<g stroke="#000" stroke-width="1.6"><line x1="91" y1="1457" x2="91" y2="1473"/><line x1="84" y1="1465" x2="98" y2="1465"/><line x1="140" y1="1473" x2="140" y2="1487"/><line x1="133" y1="1480" x2="147" y2="1480"/></g>
<line x1="91" y1="1404" x2="141" y2="1404" stroke="#000" stroke-width="1.5"/>
<text x="141" y="1397" font-size="14" text-anchor="middle">*p=0.024</text>
<g font-size="14" text-anchor="middle"><text x="92" y="1566">Control</text><text x="141" y="1566">PAE</text></g>
<g fill="#000">
<circle cx="92" cy="1415.2" r="2.6"/><circle cx="97" cy="1431.8" r="2.6"/><circle cx="84" cy="1438" r="2.6"/><circle cx="101" cy="1444.3" r="2.6"/><circle cx="80" cy="1448.4" r="2.6"/><circle cx="95" cy="1450.5" r="2.6"/><circle cx="86" cy="1454.6" r="2.6"/><circle cx="103" cy="1456.7" r="2.6"/><circle cx="78" cy="1458.8" r="2.6"/><circle cx="92" cy="1460.9" r="2.6"/><circle cx="99" cy="1462.9" r="2.6"/><circle cx="83" cy="1466" r="2.6"/><circle cx="104" cy="1469.2" r="2.6"/><circle cx="88" cy="1473.3" r="2.6"/><circle cx="97" cy="1477.5" r="2.6"/><circle cx="81" cy="1481.6" r="2.6"/><circle cx="93" cy="1485.8" r="2.6"/><circle cx="100" cy="1492" r="2.6"/><circle cx="86" cy="1496.1" r="2.6"/><circle cx="90" cy="1447" r="2.6"/>
<circle cx="136" cy="1454.6" r="2.6"/><circle cx="148" cy="1456.7" r="2.6"/><circle cx="130" cy="1458.8" r="2.6"/><circle cx="143" cy="1460.9" r="2.6"/><circle cx="152" cy="1465" r="2.6"/><circle cx="128" cy="1469.2" r="2.6"/><circle cx="140" cy="1473.3" r="2.6"/><circle cx="151" cy="1475.4" r="2.6"/><circle cx="132" cy="1477.5" r="2.6"/><circle cx="145" cy="1479.5" r="2.6"/><circle cx="127" cy="1481.6" r="2.6"/><circle cx="138" cy="1483.7" r="2.6"/><circle cx="153" cy="1485.8" r="2.6"/><circle cx="131" cy="1487.8" r="2.6"/><circle cx="146" cy="1489.9" r="2.6"/><circle cx="136" cy="1492" r="2.6"/><circle cx="141" cy="1496.1" r="2.6"/><circle cx="129" cy="1500.3" r="2.6"/><circle cx="147" cy="1506.5" r="2.6"/>
</g>
</svg>
</body></html>
